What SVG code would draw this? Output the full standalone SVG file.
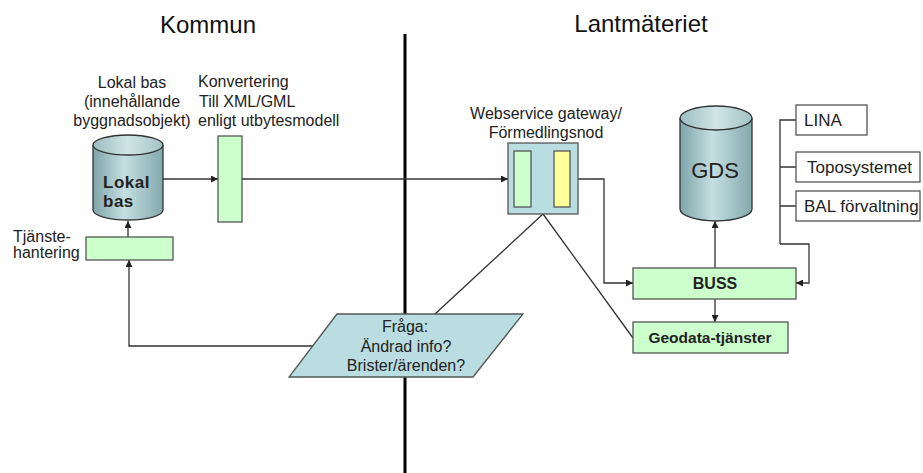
<svg xmlns="http://www.w3.org/2000/svg" width="923" height="473" viewBox="0 0 923 473">
<defs>
<linearGradient id="cyl" x1="0" y1="0" x2="1" y2="0">
<stop offset="0" stop-color="#7fa4a9"/>
<stop offset="0.45" stop-color="#c4dfe1"/>
<stop offset="1" stop-color="#84a9ad"/>
</linearGradient>
<linearGradient id="cyltop" x1="0" y1="0" x2="1" y2="0">
<stop offset="0" stop-color="#9dbdc1"/>
<stop offset="0.5" stop-color="#cfe5e6"/>
<stop offset="1" stop-color="#a3c3c6"/>
</linearGradient>
<marker id="arr" viewBox="0 0 10 10" refX="10" refY="5" markerWidth="7" markerHeight="7" markerUnits="userSpaceOnUse" orient="auto">
<path d="M0,0 L10,5 L0,10 z" fill="#222"/>
</marker>
</defs>
<style>
text{font-family:"Liberation Sans",Arial,sans-serif;fill:#222;}
.t{font-size:16px;}
.h{font-size:24px;fill:#111;}
.b{font-weight:bold;}
.c{text-anchor:middle;}
.green{fill:#ccffcc;stroke:#555;stroke-width:1.3;}
.box{fill:#fff;stroke:#555;stroke-width:1.3;}
.cylb{fill:url(#cyl);stroke:#333;stroke-width:1.3;}
.cylt{fill:url(#cyltop);stroke:#333;stroke-width:1.3;}
.ln{fill:none;stroke:#333;stroke-width:1.3;}
.la{fill:none;stroke:#333;stroke-width:1.3;marker-end:url(#arr);}
</style>
<rect width="923" height="473" fill="#fff"/>

<g id="headers">
<text class="h c" x="208" y="33">Kommun</text>
<text class="h c" x="641" y="32">Lantmäteriet</text>
</g>

<g id="divider">
<line x1="405" y1="34" x2="405" y2="473" stroke="#000" stroke-width="3"/>
</g>

<g id="connectors">
<path class="la" d="M163,179 L218,179"/>
<path class="la" d="M242,179 L508,179"/>
<path class="la" d="M128,237 L128,221"/>
<path class="la" d="M314,346 L129,346 L129,260"/>
<path class="ln" d="M543,214 L435,314"/>
<path class="ln" d="M543,214 L633,338"/>
<path class="la" d="M578,179 L604,179 L604,283 L633,283"/>
<path class="la" d="M715,268 L715,221"/>
<path class="la" d="M715,299 L715,322"/>
<path class="ln" d="M796,120 L780,120 L780,244 M780,167 L796,167 M780,206 L796,206"/>
<path class="la" d="M780,244 L809,244 L809,283 L796,283"/>
</g>

<g id="lokal-label">
<text class="t c" x="132" y="88">Lokal bas</text>
<text class="t c" x="132" y="107">(innehållande</text>
<text class="t c" x="132" y="126">byggnadsobjekt)</text>
</g>

<g id="lokal-bas">
<path class="cylb" d="M93,145 L93,210 A35,10 0 0 0 163,210 L163,145"/>
<ellipse class="cylt" cx="128" cy="145" rx="35" ry="10"/>
<text class="b" x="103" y="188" font-size="17" letter-spacing="0.5">Lokal</text>
<text class="b" x="103" y="207" font-size="17" letter-spacing="0.5">bas</text>
</g>

<g id="konvertering">
<text class="t" x="198" y="87">Konvertering</text>
<text class="t" x="199" y="107">Till XML/GML</text>
<text class="t" x="198" y="126">enligt utbytesmodell</text>
<rect class="green" x="218" y="136" width="24" height="86"/>
</g>

<g id="tjanstehantering">
<text class="t" x="13" y="242">Tjänste-</text>
<text class="t" x="13" y="258">hantering</text>
<rect class="green" x="86" y="237" width="87" height="23"/>
</g>

<g id="fraga">
<polygon points="337,314 523,314 473,377 289,377" fill="#b9dde1" stroke="#555" stroke-width="1.3"/>
<text class="t c" x="405" y="332">Fråga:</text>
<text class="t c" x="406" y="352">Ändrad info?</text>
<text class="t c" x="406" y="371">Brister/ärenden?</text>
</g>

<g id="gateway">
<text class="t c" x="546" y="119">Webservice gateway/</text>
<text class="t c" x="546" y="138">Förmedlingsnod</text>
<rect x="508" y="143" width="70" height="71" fill="#b9dde1" stroke="#555" stroke-width="1.3"/>
<rect class="green" x="514" y="151" width="17" height="56"/>
<rect x="554" y="151" width="16" height="56" fill="#ffff99" stroke="#555" stroke-width="1.3"/>
</g>

<g id="gds">
<path class="cylb" d="M680,118 L680,209 A36,12 0 0 0 752,209 L752,118"/>
<ellipse class="cylt" cx="716" cy="118" rx="36" ry="12"/>
<text class="c" x="715" y="178" font-size="22">GDS</text>
</g>

<g id="lina">
<rect class="box" x="796" y="105" width="71" height="30"/>
<text x="804" y="126" font-size="17">LINA</text>
</g>

<g id="toposystemet">
<rect class="box" x="796" y="152" width="124" height="30"/>
<text x="807" y="173" font-size="17">Toposystemet</text>
</g>

<g id="bal">
<rect class="box" x="796" y="191" width="124" height="30"/>
<text x="804" y="212" font-size="17">BAL förvaltning</text>
</g>

<g id="buss">
<rect class="green" x="633" y="268" width="163" height="31"/>
<text class="b c" x="715" y="289" font-size="16">BUSS</text>
</g>

<g id="geodata">
<rect class="green" x="633" y="322" width="155" height="31"/>
<text class="b c" x="710" y="343" font-size="15.5">Geodata-tjänster</text>
</g>
</svg>
